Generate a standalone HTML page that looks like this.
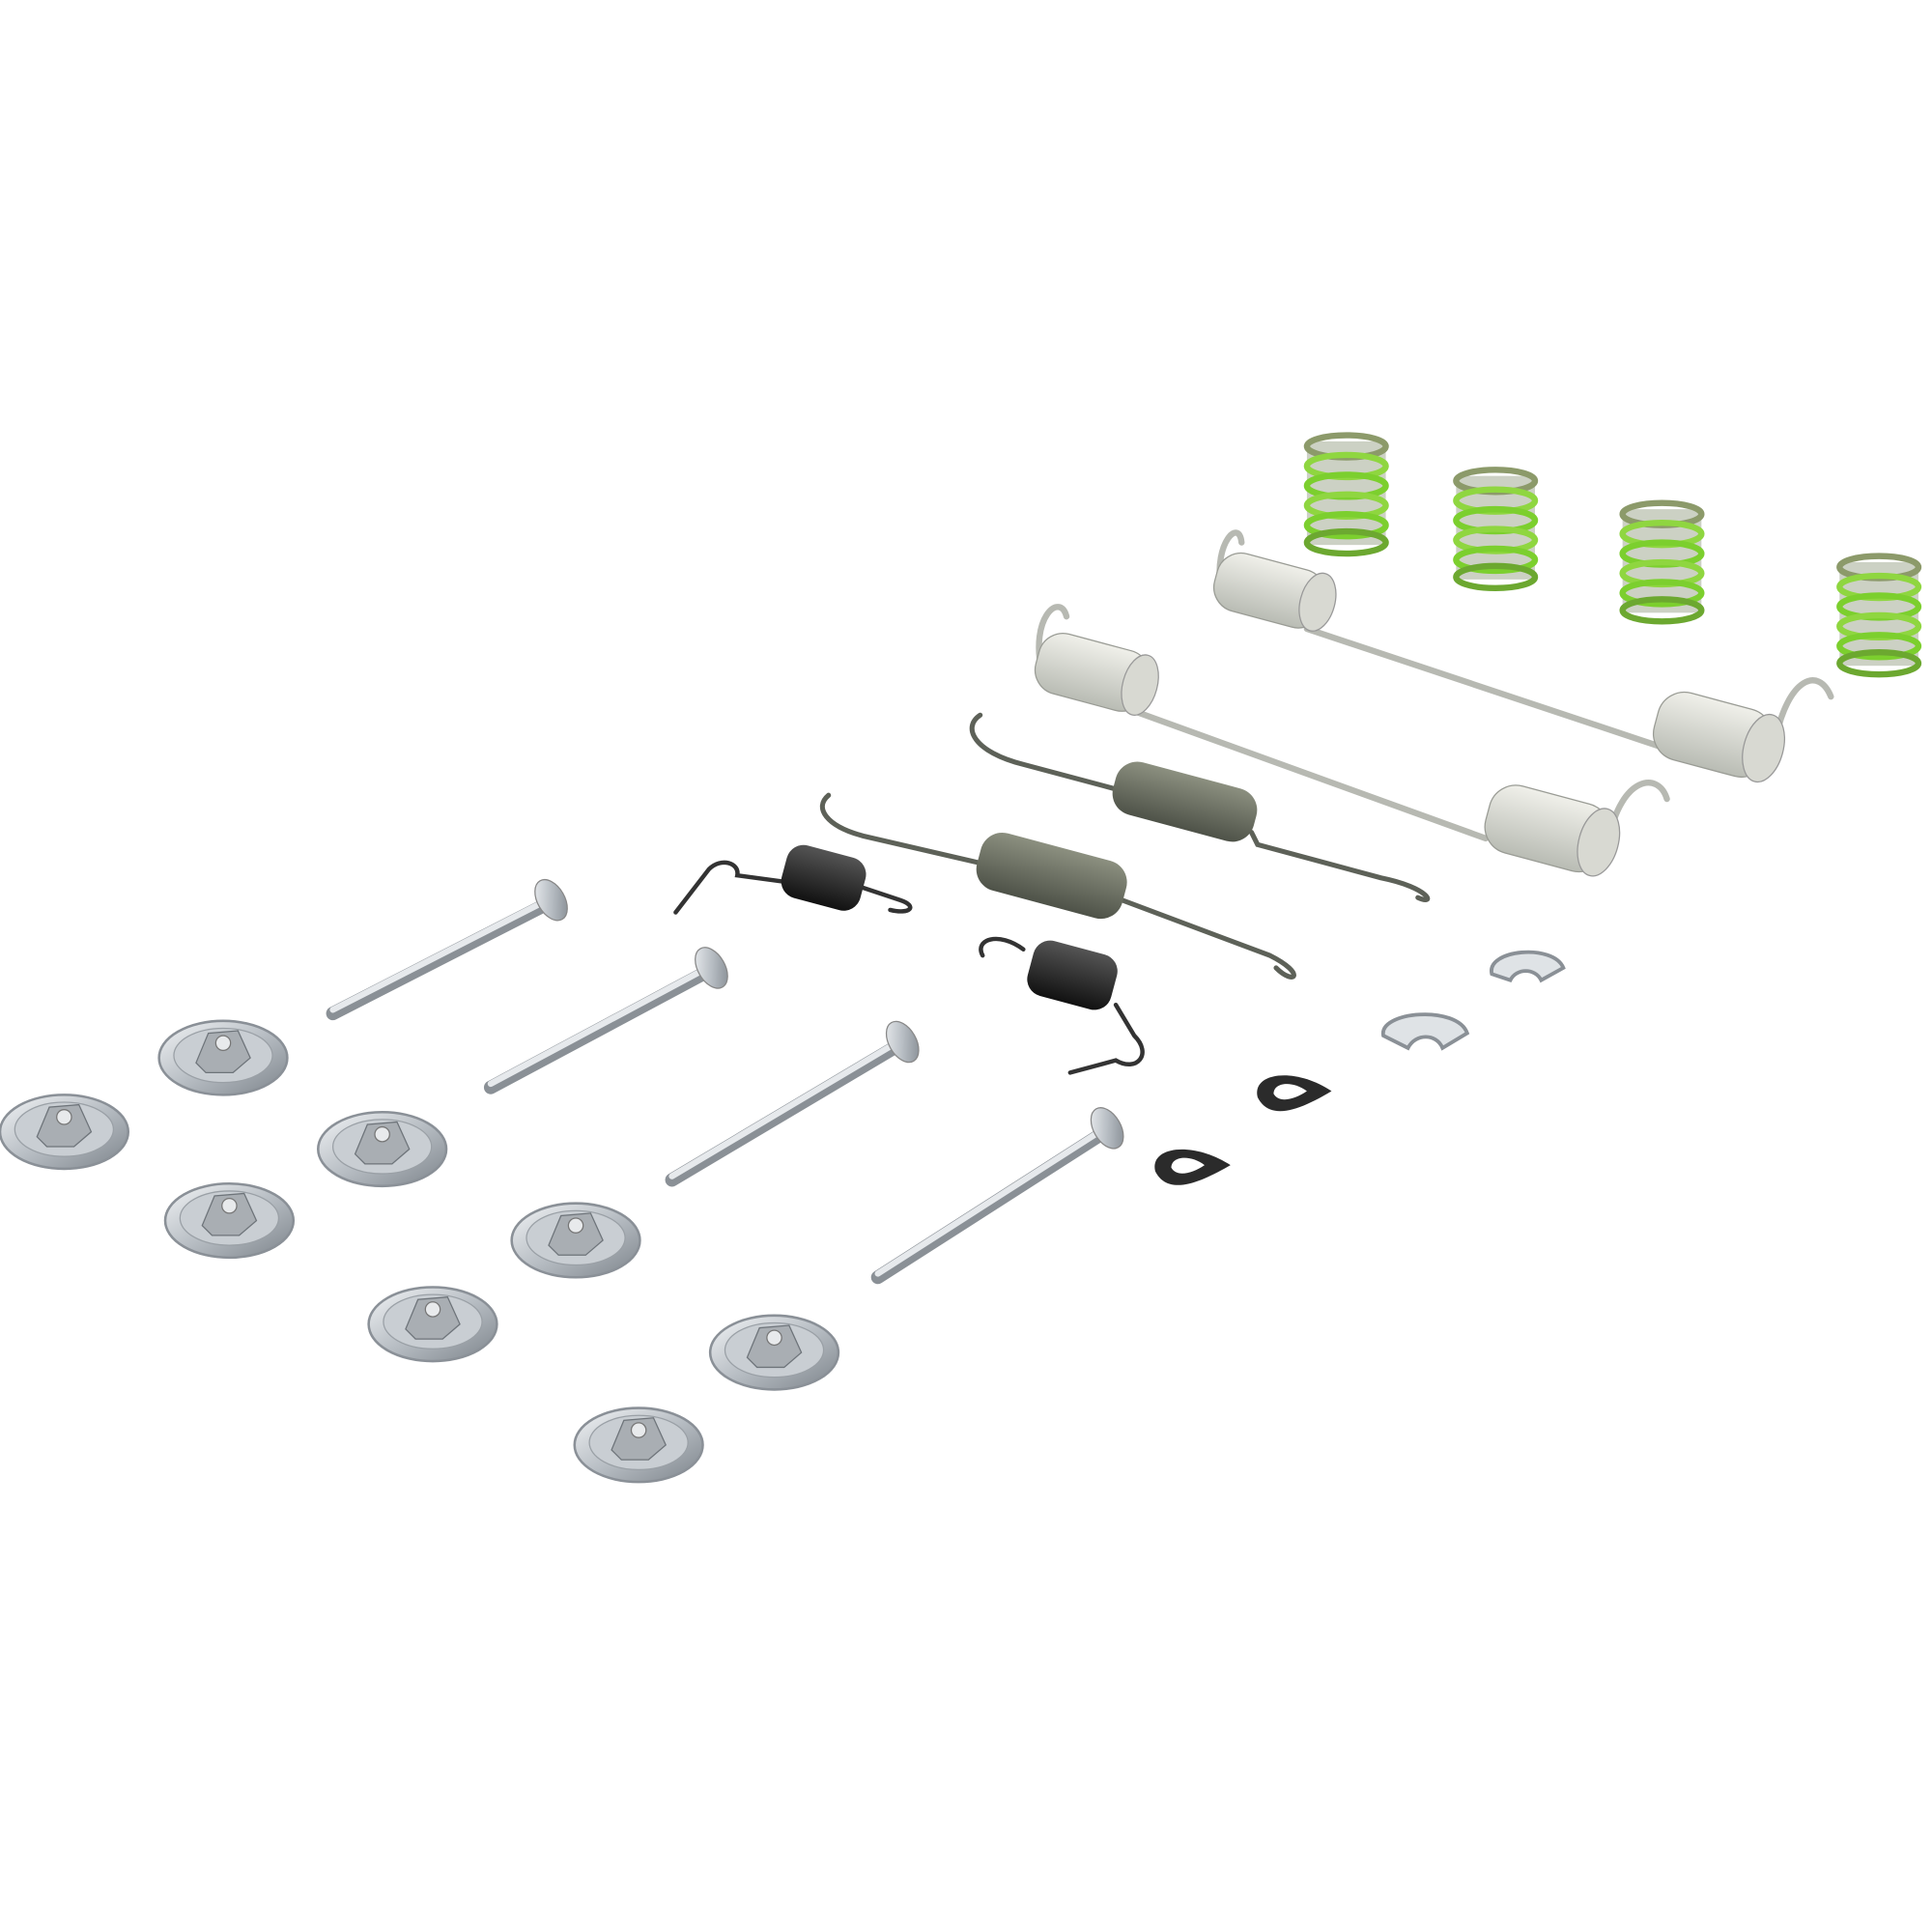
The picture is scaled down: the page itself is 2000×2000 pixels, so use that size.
<!DOCTYPE html>
<html><head><meta charset="utf-8"><style>html,body{margin:0;padding:0;background:#fff}svg{display:block}</style></head>
<body>
<svg width="2000" height="2000" viewBox="0 0 1567 1567" xmlns="http://www.w3.org/2000/svg">
<defs>
<linearGradient id="met" x1="0" y1="0" x2="1" y2="1"><stop offset="0" stop-color="#f2f4f6"/><stop offset="0.5" stop-color="#b8bec4"/><stop offset="1" stop-color="#7d848b"/></linearGradient>
<linearGradient id="wh" x1="0" y1="0" x2="0" y2="1"><stop offset="0" stop-color="#f0f0ea"/><stop offset="1" stop-color="#b9bcb4"/></linearGradient>
<linearGradient id="gr" x1="0" y1="0" x2="0" y2="1"><stop offset="0" stop-color="#8c9080"/><stop offset="1" stop-color="#4e5248"/></linearGradient>
<linearGradient id="bk" x1="0" y1="0" x2="0" y2="1"><stop offset="0" stop-color="#555"/><stop offset="1" stop-color="#111"/></linearGradient>
<g id="washer">
<ellipse cx="0" cy="0" rx="52" ry="30" fill="url(#met)" stroke="#8a9097" stroke-width="2"/>
<ellipse cx="0" cy="-2" rx="40" ry="22" fill="#c9ced3" stroke="#9aa0a6"/>
<path d="M-22,4 L-12,-20 L12,-22 L22,0 L8,12 L-14,12 Z" fill="#a9aeb3" stroke="#6e747a"/>
<circle cx="0" cy="-12" r="6" fill="#e8eaec" stroke="#777"/>
</g>
<g id="green">
<rect x="-32" y="-42" width="64" height="84" fill="#6d7a55" opacity="0.35"/>
<g fill="none" stroke-width="5">
<ellipse cx="0" cy="-38" rx="32" ry="9" stroke="#8c9a6a"/>
<ellipse cx="0" cy="-22" rx="32" ry="9" stroke="#8fd640"/>
<ellipse cx="0" cy="-6" rx="32" ry="9" stroke="#7ccf2e"/>
<ellipse cx="0" cy="10" rx="32" ry="9" stroke="#8fd640"/>
<ellipse cx="0" cy="26" rx="32" ry="9" stroke="#7ccf2e"/>
<ellipse cx="0" cy="40" rx="32" ry="9" stroke="#6ca830"/>
</g>
</g>
</defs>
<rect width="1567" height="1567" fill="#fff"/>

<!-- green springs -->
<use href="#green" x="1092" y="400"/>
<use href="#green" x="1213" y="428"/>
<use href="#green" x="1348" y="455"/>
<use href="#green" x="1524" y="498"/>

<!-- white long springs -->
<g stroke="#b7b9b2" stroke-width="5" fill="none" stroke-linecap="round">
<line x1="1060" y1="510" x2="1345" y2="605"/>
<line x1="915" y1="575" x2="1205" y2="680"/>
<path d="M990,475 C985,440 1005,420 1007,440"/>
<path d="M845,545 C835,500 860,480 865,500"/>
<path d="M1440,600 C1450,550 1475,540 1485,565"/>
<path d="M1305,680 C1315,630 1345,625 1352,648"/>
</g>
<g transform="rotate(15 1030 478)"><rect x="985" y="455" width="90" height="48" rx="20" fill="url(#wh)" stroke="#9a9c95"/><ellipse cx="1070" cy="478" rx="14" ry="24" fill="#d8d9d2" stroke="#999"/></g>
<g transform="rotate(15 1390 595)"><rect x="1342" y="568" width="95" height="56" rx="22" fill="url(#wh)" stroke="#9a9c95"/><ellipse cx="1432" cy="596" rx="16" ry="28" fill="#d8d9d2" stroke="#999"/></g>
<g transform="rotate(15 885 545)"><rect x="840" y="520" width="92" height="50" rx="20" fill="url(#wh)" stroke="#9a9c95"/><ellipse cx="926" cy="545" rx="14" ry="25" fill="#d8d9d2" stroke="#999"/></g>
<g transform="rotate(15 1255 672)"><rect x="1205" y="644" width="100" height="56" rx="22" fill="url(#wh)" stroke="#9a9c95"/><ellipse cx="1298" cy="672" rx="16" ry="28" fill="#d8d9d2" stroke="#999"/></g>

<!-- gray springs -->
<g stroke="#5d6158" stroke-width="4" fill="none" stroke-linecap="round">
<path d="M795,580 C780,590 790,610 830,620 L905,640"/>
<path d="M1015,675 L1020,685 L1120,712 C1160,720 1165,735 1150,728"/>
<path d="M672,645 C660,655 670,670 700,678 L795,700"/>
<path d="M910,730 L1030,775 C1060,790 1050,800 1035,785"/>
</g>
<g transform="rotate(15 960 650)"><rect x="902" y="628" width="118" height="44" rx="18" fill="url(#gr)"/></g>
<g transform="rotate(15 852 710)"><rect x="792" y="686" width="122" height="48" rx="18" fill="url(#gr)"/></g>

<!-- black small springs -->
<g stroke="#333" stroke-width="3.5" fill="none" stroke-linecap="round">
<path d="M548,740 L575,705 C585,695 600,700 598,710 L635,715"/>
<path d="M700,720 L730,730 C745,735 738,742 722,738"/>
<path d="M797,775 C790,762 810,755 830,770"/>
<path d="M905,815 L920,840 C935,855 922,870 905,860 L868,870"/>
</g>
<g transform="rotate(15 668 712)"><rect x="635" y="690" width="66" height="44" rx="14" fill="url(#bk)"/></g>
<g transform="rotate(15 870 790)"><rect x="835" y="768" width="70" height="46" rx="14" fill="url(#bk)"/></g>

<!-- pins -->
<g stroke-linecap="round">
<g><line x1="270" y1="822" x2="440" y2="735" stroke="#8a9096" stroke-width="11"/><line x1="270" y1="819" x2="440" y2="732" stroke="#e6e9ec" stroke-width="5"/><ellipse cx="447" cy="730" rx="11" ry="18" transform="rotate(-30 447 730)" fill="url(#met)" stroke="#888"/></g>
<g><line x1="398" y1="882" x2="570" y2="790" stroke="#8a9096" stroke-width="11"/><line x1="398" y1="879" x2="570" y2="787" stroke="#e6e9ec" stroke-width="5"/><ellipse cx="577" cy="785" rx="11" ry="18" transform="rotate(-30 577 785)" fill="url(#met)" stroke="#888"/></g>
<g><line x1="545" y1="957" x2="725" y2="850" stroke="#8a9096" stroke-width="11"/><line x1="545" y1="954" x2="725" y2="847" stroke="#e6e9ec" stroke-width="5"/><ellipse cx="732" cy="845" rx="11" ry="18" transform="rotate(-30 732 845)" fill="url(#met)" stroke="#888"/></g>
<g><line x1="712" y1="1036" x2="890" y2="922" stroke="#8a9096" stroke-width="11"/><line x1="712" y1="1033" x2="890" y2="919" stroke="#e6e9ec" stroke-width="5"/><ellipse cx="898" cy="915" rx="11" ry="18" transform="rotate(-30 898 915)" fill="url(#met)" stroke="#888"/></g>
</g>

<!-- washers -->
<use href="#washer" x="181" y="858"/>
<use href="#washer" x="52" y="918"/>
<use href="#washer" x="310" y="932"/>
<use href="#washer" x="186" y="990"/>
<use href="#washer" x="467" y="1006"/>
<use href="#washer" x="351" y="1074"/>
<use href="#washer" x="628" y="1097"/>
<use href="#washer" x="518" y="1172"/>

<!-- C clips -->
<g fill="none" stroke-linecap="round">
<path d="M1210,790 C1205,770 1260,765 1268,785 L1250,795 C1245,785 1230,785 1225,795 Z" stroke="#8a9096" stroke-width="3" fill="#dfe3e6"/>
<path d="M1122,840 C1118,820 1182,815 1190,838 L1170,850 C1165,838 1148,838 1142,850 Z" stroke="#8a9096" stroke-width="3" fill="#dfe3e6"/>
</g>
<!-- black clips -->
<path d="M1020,890 C1015,870 1050,865 1080,885 C1055,900 1030,910 1020,890 Z" fill="#2b2b2b"/>
<path d="M1033,887 C1033,878 1048,876 1060,885 C1050,892 1037,895 1033,887 Z" fill="#fff"/>
<path d="M937,950 C932,930 967,925 998,945 C972,960 947,970 937,950 Z" fill="#2b2b2b"/>
<path d="M950,947 C950,938 965,936 977,945 C967,952 954,955 950,947 Z" fill="#fff"/>
</svg>
</body></html>
